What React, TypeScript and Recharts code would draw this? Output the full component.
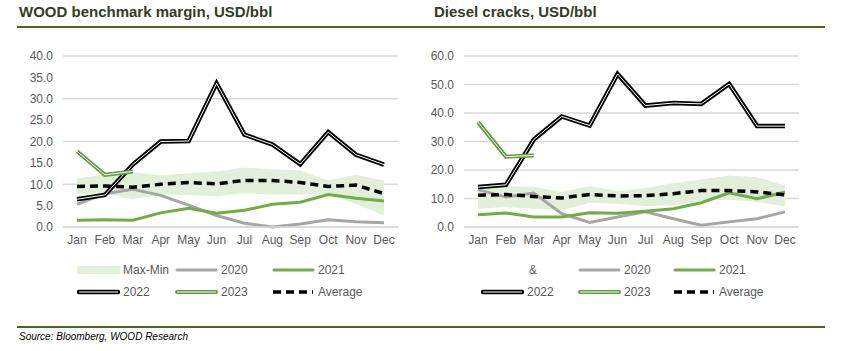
import React from 'react';
import { ComposedChart, Line, Area, XAxis, YAxis, CartesianGrid } from 'recharts';

const months = ['Jan', 'Feb', 'Mar', 'Apr', 'May', 'Jun', 'Jul', 'Aug', 'Sep', 'Oct', 'Nov', 'Dec'];

// WOOD benchmark margin, USD/bbl
const woodMax = [11.4, 12.2, 12.8, 12.1, 12.6, 13.0, 13.9, 13.5, 13.2, 10.9, 12.2, 10.9];
const woodMin = [7.8, 7.8, 6.5, 7.6, 7.5, 7.2, 7.9, 7.6, 7.6, 7.8, 5.4, 2.7];
const wood2020 = [5.3, 7.8, 8.8, 7.4, 5.1, 2.7, 0.9, 0.0, 0.7, 1.7, 1.2, 1.0];
const wood2021 = [1.6, 1.7, 1.6, 3.3, 4.4, 3.2, 3.9, 5.3, 5.8, 7.6, 6.7, 6.1];
const wood2022 = [6.5, 7.5, 14.6, 20.0, 20.1, 33.6, 21.6, 19.3, 14.7, 22.2, 16.9, 14.6];
const wood2023 = [17.7, 12.2, 13.0];
const woodAvg = [9.5, 9.6, 9.3, 10.0, 10.4, 10.1, 10.9, 10.9, 10.4, 9.5, 9.8, 7.8];
const woodTicks = [0, 5, 10, 15, 20, 25, 30, 35, 40];

// Diesel cracks, USD/bbl
const dieselMax = [14.9, 14.4, 14.0, 12.3, 14.4, 12.6, 13.7, 15.4, 16.7, 18.1, 17.5, 14.6];
const dieselMin = [6.4, 7.0, 6.4, 5.8, 8.5, 8.2, 7.4, 7.6, 9.3, 9.6, 8.8, 7.2];
const diesel2020 = [13.1, 10.5, 11.9, 4.7, 1.6, 3.5, 5.3, 2.9, 0.6, 1.8, 2.9, 5.3];
const diesel2021 = [4.3, 4.9, 3.5, 3.5, 5.0, 4.8, 5.5, 6.4, 8.5, 12.0, 9.9, 12.3];
const diesel2022 = [14.0, 14.8, 30.7, 38.8, 35.6, 53.7, 42.6, 43.5, 43.2, 50.2, 35.4, 35.4];
const diesel2023 = [36.8, 24.7, 25.1];
const dieselAvg = [11.1, 11.4, 10.7, 10.2, 11.4, 10.9, 11.0, 11.7, 12.8, 12.8, 12.3, 11.3];
const dieselTicks = [0, 10, 20, 30, 40, 50, 60];

const C_BAND = '#E2EFDA';
const C_2020 = '#A6A6A6';
const C_2021 = '#70AD47';
const C_2023 = '#5E9B3C';
const C_RULE = '#4F6228';
const C_TEXT = '#595959';
const C_TITLE = '#333D22';
const FONT = '"Liberation Sans", Arial, sans-serif';

function build(mx: number[], mn: number[], a: number[], b: number[], c: number[], d: number[], avg: number[]) {
  return months.map((m, i) => ({
    m,
    band: [mn[i], mx[i]],
    y2020: a[i],
    y2021: b[i],
    y2022: c[i],
    y2023: i < d.length ? d[i] : null,
    avg: avg[i],
  }));
}

const woodData = build(woodMax, woodMin, wood2020, wood2021, wood2022, wood2023, woodAvg);
const dieselData = build(dieselMax, dieselMin, diesel2020, diesel2021, diesel2022, diesel2023, dieselAvg);

function Chart({ data, ticks, max, left, ml, yw, mr }: any) {
  return (
    <div style={{ position: 'absolute', left, top: 0 }}>
      <ComposedChart width={430} height={260} data={data} margin={{ top: 56, right: mr, bottom: 0, left: ml }}>
        <CartesianGrid vertical={false} stroke="#D9D9D9" strokeWidth={1.5} />
        <XAxis
          dataKey="m"
          height={33}
          padding={{ left: 14, right: 14 }}
          axisLine={{ stroke: '#D9D9D9', strokeWidth: 1.5 }}
          tickLine={false}
          tick={{ fill: C_TEXT, fontSize: 12, fontFamily: FONT }}
          tickMargin={2}
          interval={0}
        />
        <YAxis
          width={yw}
          domain={[0, max]}
          ticks={ticks}
          axisLine={false}
          tickLine={false}
          tickFormatter={(v: number) => v.toFixed(1)}
          tick={{ fill: C_TEXT, fontSize: 12, fontFamily: FONT }}
          tickMargin={4}
        />
        <Area dataKey="band" fill={C_BAND} fillOpacity={1} stroke="none" isAnimationActive={false} />
        <Line dataKey="y2020" stroke={C_2020} strokeWidth={3} dot={false} isAnimationActive={false} />
        <Line dataKey="y2021" stroke={C_2021} strokeWidth={3} dot={false} isAnimationActive={false} />
        <Line dataKey="y2022" stroke="#000" strokeWidth={4.5} dot={false} isAnimationActive={false} />
        <Line dataKey="y2022" stroke="#fff" strokeWidth={1} dot={false} isAnimationActive={false} />
        <Line dataKey="y2023" stroke={C_2023} strokeWidth={4} dot={false} isAnimationActive={false} />
        <Line dataKey="y2023" stroke="#fff" strokeWidth={1} dot={false} isAnimationActive={false} />
        <Line dataKey="avg" stroke="#000" strokeWidth={3.5} strokeDasharray="8 5" dot={false} isAnimationActive={false} />
      </ComposedChart>
    </div>
  );
}

function Swatch({ kind }: { kind: string }) {
  const w = 43;
  return (
    <svg width={w} height={10} style={{ display: 'block' }}>
      {kind === 'band' && <rect x={0} y={1} width={w} height={8} fill={C_BAND} />}
      {kind === '2020' && <line x1={2} x2={w - 2} y1={5} y2={5} stroke={C_2020} strokeWidth={3} strokeLinecap="round" />}
      {kind === '2021' && <line x1={2} x2={w - 2} y1={5} y2={5} stroke={C_2021} strokeWidth={3} strokeLinecap="round" />}
      {kind === '2022' && (
        <g>
          <line x1={2} x2={w - 2} y1={5} y2={5} stroke="#000" strokeWidth={4.5} strokeLinecap="round" />
          <line x1={2} x2={w - 2} y1={5} y2={5} stroke="#fff" strokeWidth={1} />
        </g>
      )}
      {kind === '2023' && (
        <g>
          <line x1={2} x2={w - 2} y1={5} y2={5} stroke={C_2023} strokeWidth={4} strokeLinecap="round" />
          <line x1={2} x2={w - 2} y1={5} y2={5} stroke="#fff" strokeWidth={1} />
        </g>
      )}
      {kind === 'avg' && <line x1={1} x2={w - 2} y1={5} y2={5} stroke="#000" strokeWidth={3.5} strokeDasharray="8 5" />}
    </svg>
  );
}

function LegendItem({ x, y, kind, label }: any) {
  return (
    <div style={{ position: 'absolute', left: x, top: y - 7, height: 14, display: 'flex', alignItems: 'center' }}>
      {kind && <Swatch kind={kind} />}
      <span style={{ fontSize: 12, color: C_TEXT, fontFamily: FONT, marginLeft: kind ? 3 : 0, lineHeight: '14px' }}>{label}</span>
    </div>
  );
}

export default function App() {
  return (
    <div style={{ position: 'absolute', left: 0, top: 0, width: 860, height: 351, background: '#fff', fontFamily: FONT }}>
      <div style={{ position: 'absolute', left: 19, top: 3, fontSize: 15, fontWeight: 'bold', color: C_TITLE }}>
        WOOD benchmark margin, USD/bbl
      </div>
      <div style={{ position: 'absolute', left: 434, top: 3, fontSize: 15, fontWeight: 'bold', color: C_TITLE }}>
        Diesel cracks, USD/bbl
      </div>
      <div style={{ position: 'absolute', left: 17, top: 26, width: 808, height: 2, background: C_RULE }} />

      <Chart data={woodData} ticks={woodTicks} max={40} left={0} ml={18} yw={45} mr={32} />
      <Chart data={dieselData} ticks={dieselTicks} max={60} left={430} ml={6} yw={28} mr={61} />

      <LegendItem x={77} y={270} kind="band" label="Max-Min" />
      <LegendItem x={175} y={270} kind="2020" label="2020" />
      <LegendItem x={272} y={270} kind="2021" label="2021" />
      <LegendItem x={77} y={292} kind="2022" label="2022" />
      <LegendItem x={175} y={292} kind="2023" label="2023" />
      <LegendItem x={272} y={292} kind="avg" label="Average" />

      <LegendItem x={529} y={270} kind={null} label="&" />
      <LegendItem x={578} y={270} kind="2020" label="2020" />
      <LegendItem x={673} y={270} kind="2021" label="2021" />
      <LegendItem x={481} y={292} kind="2022" label="2022" />
      <LegendItem x={578} y={292} kind="2023" label="2023" />
      <LegendItem x={673} y={292} kind="avg" label="Average" />

      <div style={{ position: 'absolute', left: 17, top: 326, width: 808, height: 2, background: C_RULE }} />
      <div style={{ position: 'absolute', left: 19, top: 331, fontSize: 10, fontStyle: 'italic', color: '#000' }}>
        Source: Bloomberg, WOOD Research
      </div>
    </div>
  );
}
